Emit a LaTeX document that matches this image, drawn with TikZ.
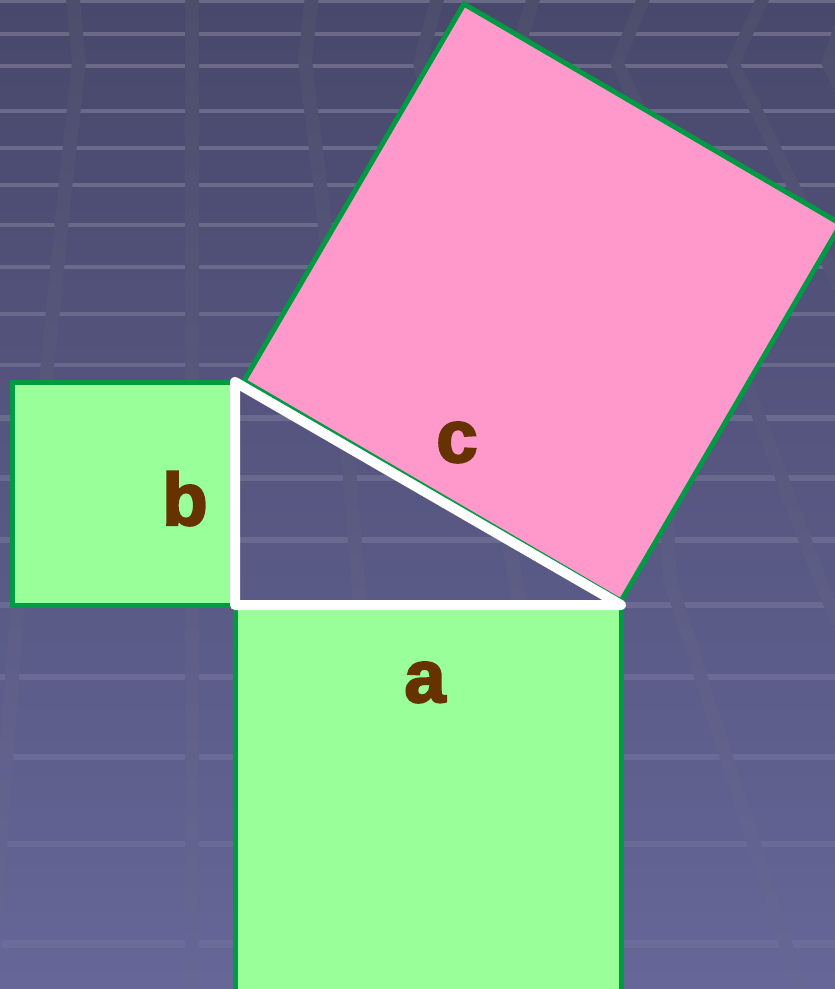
\documentclass[tikz,border=0pt]{standalone}
\usepackage{fontspec}
\newfontfamily\lblfont[FakeBold=3]{Liberation Sans}
\definecolor{bgtop}{RGB}{72,72,108}
\definecolor{bgbot}{RGB}{102,102,152}
\definecolor{bandtop}{RGB}{77,77,108}
\definecolor{bandbot}{RGB}{103,103,150}
\definecolor{sqgreen}{RGB}{153,255,153}
\definecolor{sqpink}{RGB}{255,153,204}
\definecolor{edgegreen}{RGB}{0,153,68}
\definecolor{lblbrown}{RGB}{102,51,0}
\tikzset{
  sqbox/.style={draw=edgegreen, line width=5pt, line join=miter},
  tri/.style={draw=white, line width=10pt, line join=round, line cap=round},
  lbl/.style={text=lblbrown, font=\lblfont\bfseries\fontsize{74}{74}\selectfont, inner sep=0pt, anchor=base}
}
\begin{document}
\begin{tikzpicture}[x=1pt,y=-1pt]
\useasboundingbox (0,0) rectangle (835,989);
\clip (0,0) rectangle (835,989);
% background
\shade[top color=bgtop,bottom color=bgbot] (0,0) rectangle (835,989);
\foreach \yy in {1,34,66,111,148,185,225,267,314,365,418,478,540,605,677,757,844,944}{
  \pgfmathsetmacro\op{0.19-0.15*\yy/989}
  \pgfmathsetmacro\lw{3.5+4*\yy/989}
  \draw[white, opacity=\op, line width=\lw pt] (0,\yy) -- (835,\yy);
}
% vertical bands
\begin{scope}
\clip
  (66,0) -- (72,62) -- (59,180) -- (39,380) -- (11,600) -- (-4,800) -- (-15,989) --
  (-1,989) -- (10,800) -- (25,600) -- (53,380) -- (73,180) -- (86,62) -- (80,0) -- cycle
  (185,0) -- (185,989) -- (199,989) -- (199,0) -- cycle
  (305,-5) -- (298,60) -- (315,200) -- (335,380) -- (353,605) -- (365,989) --
  (379,989) -- (367,605) -- (349,380) -- (329,200) -- (312,60) -- (319,-5) -- cycle
  (430,0) -- (413,62) -- (438,200) -- (473,380) -- (513,605) -- (553,989) --
  (567,989) -- (527,605) -- (487,380) -- (452,200) -- (427,62) -- (444,0) -- cycle
  (526,0) -- (515,35) -- (533,110) -- (573,300) --
  (587,300) -- (547,110) -- (529,35) -- (540,0) -- cycle
  (636,0) -- (610,63) -- (633,110) -- (653,400) -- (663,580) -- (793,989) --
  (807,989) -- (677,580) -- (667,400) -- (647,110) -- (624,63) -- (650,0) -- cycle
  (755,0) -- (726,63) -- (793,200) -- (833,290) --
  (847,290) -- (807,200) -- (740,63) -- (769,0) -- cycle
  (693,250) -- (738,380) -- (813,580) -- (838,640) --
  (852,640) -- (827,580) -- (752,380) -- (707,250) -- cycle
  (843,0) -- (821,63) -- (843,110) --
  (857,110) -- (835,63) -- (857,0) -- cycle;
\shade[top color=bandtop,bottom color=bandbot] (0,0) rectangle (835,989);
\end{scope}
% triangle corners
\coordinate (R) at (235,605);
\coordinate (T) at (235,382);
\coordinate (E) at (621,605);
% squares
\filldraw[sqbox, fill=sqgreen] (R) rectangle (621,995);
\filldraw[sqbox, fill=sqgreen] (12,382) rectangle (R);
\filldraw[sqbox, fill=sqpink] (244,381) -- (621,601) -- (841,224) -- (464,4) -- cycle;
% triangle
\draw[tri] (T) -- (R) -- (E) -- cycle;
% labels
\node[lbl] (la) at (425,702) {a};
\node[lbl] (lb) at (185,525) {b};
\node[lbl] (lc) at (457,462) {c};
\end{tikzpicture}
\end{document}
